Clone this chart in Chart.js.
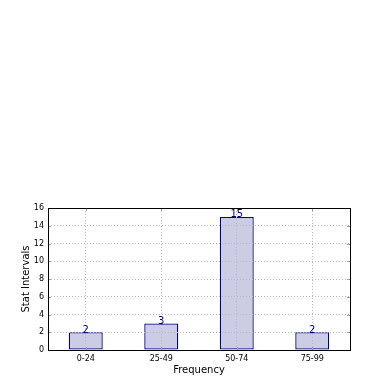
<!DOCTYPE html>
<html>
<head>
<meta charset="utf-8">
<script src="https://cdn.jsdelivr.net/npm/chart.js@4"></script>
<style>
  html, body { margin: 0; padding: 0; background: #fff; }
  #wrap { width: 390px; height: 390px; }
</style>
</head>
<body>
<div id="wrap"><canvas id="chart" width="390" height="390"></canvas></div>
<script>
// Data
const categories = ['0-24', '25-49', '50-74', '75-99'];
const counts = [2, 3, 15, 2];
const yTicks = [0, 2, 4, 6, 8, 10, 12, 14, 16];

// Frame, faint inward tick marks and value labels drawn on top
const framePlugin = {
    id: 'frame',
    afterDraw(chart) {
        const ctx = chart.ctx;
        const a = chart.chartArea;
        const xs = chart.scales.x;
        const ys = chart.scales.y;
        ctx.save();
        ctx.strokeStyle = '#a0a0a0';
        ctx.lineWidth = 1;
        ctx.beginPath();
        yTicks.forEach(v => {
            const y = Math.round(ys.getPixelForValue(v)) + 0.5;
            ctx.moveTo(a.left, y); ctx.lineTo(a.left + 3, y);
            ctx.moveTo(a.right, y); ctx.lineTo(a.right - 3, y);
        });
        categories.forEach((c, i) => {
            const x = Math.round(xs.getPixelForValue(i)) + 0.5;
            ctx.moveTo(x, a.bottom); ctx.lineTo(x, a.bottom - 3);
            ctx.moveTo(x, a.top); ctx.lineTo(x, a.top + 3);
        });
        ctx.stroke();
        ctx.strokeStyle = '#000';
        ctx.strokeRect(Math.round(a.left) + 0.5, Math.round(a.top) + 0.5,
            Math.round(a.right - a.left), Math.round(a.bottom - a.top));
        // value labels
        ctx.fillStyle = '#00008b';
        ctx.font = '10px "DejaVu Sans"';
        ctx.textAlign = 'center';
        ctx.textBaseline = 'bottom';
        counts.forEach((v, i) => {
            ctx.fillText(String(v), xs.getPixelForValue(i), ys.getPixelForValue(v) + 3);
        });
        ctx.restore();
    }
};

const ctx = document.getElementById('chart').getContext('2d');
new Chart(ctx, {
    type: 'bar',
    data: {
        labels: categories,
        datasets: [{
            data: counts,
            backgroundColor: 'rgb(204, 204, 228)',
            borderColor: '#000080',
            borderWidth: 1.3,
            borderSkipped: false,
            barPercentage: 0.45,
            categoryPercentage: 1.0
        }]
    },
    options: {
        responsive: false,
        animation: false,
        layout: { padding: { left: 20, top: 208, right: 40, bottom: 14 } },
        plugins: { legend: { display: false }, tooltip: { enabled: false } },
        scales: {
            x: {
                grid: { z: 1, color: '#b8b8b8', drawTicks: false, offset: false },
                border: { display: false, dash: [1, 2] },
                ticks: { color: '#000', font: { family: 'DejaVu Sans', size: 8 }, padding: 4, maxRotation: 0 },
                title: { display: true, text: 'Frequency', color: '#000', font: { family: 'DejaVu Sans', size: 10 }, padding: 0 },
                afterFit(scale) { scale.height = 26; }
            },
            y: {
                min: 0,
                max: 16,
                grid: { z: 1, color: '#b8b8b8', drawTicks: false },
                border: { display: false, dash: [1, 2] },
                ticks: { stepSize: 2, color: '#000', font: { family: 'DejaVu Sans', size: 8 }, padding: 4 },
                title: { display: true, text: 'Stat Intervals', color: '#000', font: { family: 'DejaVu Sans', size: 10 }, padding: 0 },
                afterFit(scale) { scale.width = 28; }
            }
        }
    },
    plugins: [framePlugin]
});
</script>
</body>
</html>
